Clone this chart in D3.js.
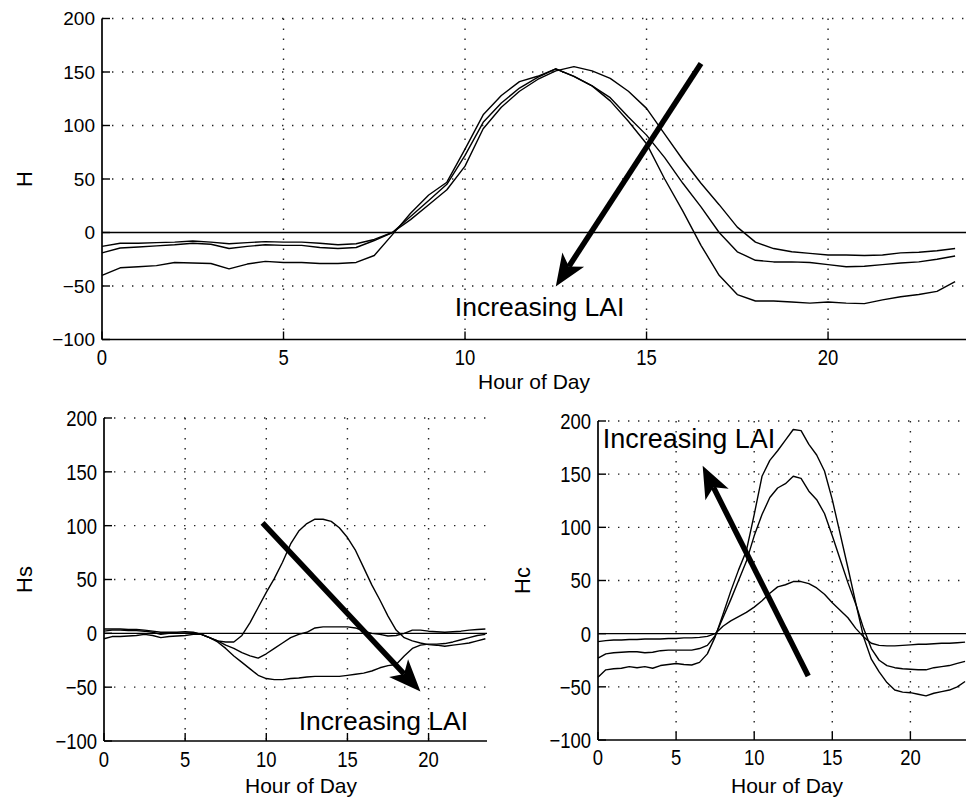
<!DOCTYPE html>
<html>
<head>
<meta charset="utf-8">
<script src="https://cdn.jsdelivr.net/npm/d3@7"></script>
<style>
  html, body { margin: 0; padding: 0; background: #fff; }
  svg { display: block; }
</style>
</head>
<body>
<div id="chart"></div>
<script>
// half-hourly samples, hour of day
const hours = [0, 0.5, 1, 1.5, 2, 2.5, 3, 3.5, 4, 4.5, 5, 5.5, 6, 6.5, 7, 7.5, 8, 8.5, 9, 9.5,
  10, 10.5, 11, 11.5, 12, 12.5, 13, 13.5, 14, 14.5, 15, 15.5, 16, 16.5, 17, 17.5, 18, 18.5, 19, 19.5,
  20, 20.5, 21, 21.5, 22, 22.5, 23, 23.5];

// total H, low / mid / high LAI
const hLow = [-13, -10, -10, -9.5, -9, -8, -9, -10.5, -9.5, -8.5, -9, -9, -10, -11.5, -10.5, -6.5, 0, 12, 26, 40,
  62, 97, 117, 132, 143, 151, 155, 151, 144, 132, 116, 92, 68, 46, 26, 5, -9, -15, -18, -19.5,
  -21, -21, -21.5, -21, -19, -18.5, -17, -15];
const hMid = [-19, -14.5, -13.5, -12.5, -11.5, -10, -11, -15, -13, -11.5, -12, -12, -14, -15, -14, -7.5, 0, 15, 30, 45,
  72, 103, 121, 135, 145, 153, 146, 137, 126, 108, 91, 70, 46, 24, 0, -18, -26, -27.5, -27.5, -28,
  -30, -32, -31.5, -30, -28.5, -27.5, -25, -22];
const hHigh = [-40, -33, -32, -31, -28, -28.5, -29, -34, -29.5, -27, -28, -28, -29, -29, -28, -21.5, -2, 18, 35, 47,
  78, 110, 128, 141, 146, 153, 146, 137, 123, 104, 83, 50, 20, -12, -40, -58, -64, -64, -65, -66,
  -65, -66, -66.5, -63, -60, -58, -55, -46];

// soil Hs
const hsLow = [-5, -3, -3, -2.5, -2, -1, -2, -4, -3, -2.5, -2, -1, -1, -4, -7, -8, -8, -2, 10, 24,
  38, 51, 66, 83, 95, 102, 106, 106, 104, 98, 89, 77, 61, 45, 31, 16, 3, -4, -7, -9,
  -10.5, -11, -12, -11, -10, -9, -7, -5];
const hsMid = [4, 4, 4, 3.5, 3.5, 3, 2, 1, 1, 1, 1.5, 1, -1, -4, -7, -11, -14, -18, -21, -23,
  -19, -14, -9, -4, -1, 1, 5, 6, 6, 6, 6, 5, 2, 0, -1, -2.5, -2, 0, 3, 3,
  2, 1.5, 1, 1.5, 2, 3, 3.5, 4];
const hsHigh = [2, 3, 3, 2.5, 2.5, 2, 1, -1, 0, 0, 0, 0.5, -1, -4, -8, -14, -21, -27, -33, -39,
  -42, -43, -43, -42, -41.5, -40.5, -40, -40, -40, -40, -39, -38, -37, -35, -32, -30, -29, -21, -14, -11,
  -10, -10, -9.5, -8, -6, -4, -2, -1];

// canopy Hc
const hcLow = [-7.5, -6.5, -6, -6, -5.5, -5.5, -5, -5, -5, -4.5, -4.5, -4, -4, -3.5, -2.5, 0, 7, 12, 16, 20,
  25, 31, 38, 44, 46, 49, 49, 47, 43, 37, 29, 22, 15, 5, -3, -9, -11, -11.5, -11.5, -11,
  -10.5, -10, -10, -9.5, -9, -9, -8.5, -8];
const hcMid = [-23, -19, -18, -17.5, -17, -17, -18, -17.5, -16, -15.5, -15.5, -15.5, -15.5, -14, -11, -2, 15, 32, 50, 68,
  92, 112, 128, 137, 141, 148, 146, 134, 126, 113, 92, 70, 48, 28, 5, -14, -25, -30, -32, -33,
  -33.5, -34, -34, -32, -31, -30, -28, -26];
const hcHigh = [-41, -34, -33, -32.5, -31, -32, -31, -32.5, -30, -29, -28, -29, -29.5, -27, -19, -3, 18, 40, 60, 78,
  112, 148, 163, 172, 182, 192, 191, 178, 168, 153, 126, 94, 62, 29, -3, -24, -36, -46, -53, -55,
  -55.5, -57, -58.5, -56, -54.5, -53, -50, -45];

const xTicks = [0, 5, 10, 15, 20];
const yTicks = [-100, -50, 0, 50, 100, 150, 200];

const W = 966, H = 801;
const font = "'Liberation Sans', Arial, Helvetica, sans-serif";

const svg = d3.select("#chart")
    .append("svg")
    .attr("width", W)
    .attr("height", H)
    .style("font-family", font);

function fmt(d) {
    return d < 0 ? "\u2212" + Math.abs(d) : String(d);
}

function drawPanel(p) {
    const x = d3.scaleLinear().domain([0, p.xMax]).range([p.left, p.right]);
    const y = d3.scaleLinear().domain([-100, 200]).range([p.bottom, p.top]);
    const g = svg.append("g").attr("class", p.name);

    // dotted grid
    g.selectAll(".gy").data(yTicks.filter(d => d !== -100 && d !== 0))
        .enter().append("line")
        .attr("x1", p.left).attr("x2", p.right)
        .attr("y1", d => y(d)).attr("y2", d => y(d))
        .attr("stroke", "#222").attr("stroke-width", 1.4)
        .attr("stroke-dasharray", "1.4,8.6");
    g.selectAll(".gx").data(xTicks.filter(d => d !== 0))
        .enter().append("line")
        .attr("x1", d => x(d)).attr("x2", d => x(d))
        .attr("y1", p.top).attr("y2", p.bottom)
        .attr("stroke", "#222").attr("stroke-width", 1.4)
        .attr("stroke-dasharray", "1.4,8.6");

    // zero reference
    g.append("line")
        .attr("x1", p.left).attr("x2", p.right)
        .attr("y1", y(0)).attr("y2", y(0))
        .attr("stroke", "#000").attr("stroke-width", 1.3);

    // axes
    g.append("line")
        .attr("x1", p.left).attr("x2", p.left)
        .attr("y1", p.top).attr("y2", p.bottom)
        .attr("stroke", "#000").attr("stroke-width", 1.7);
    g.append("line")
        .attr("x1", p.left).attr("x2", p.right)
        .attr("y1", p.bottom).attr("y2", p.bottom)
        .attr("stroke", "#000").attr("stroke-width", 1.7);

    // inward ticks
    g.selectAll(".ty").data(yTicks).enter().append("line")
        .attr("x1", p.left).attr("x2", p.left + 8)
        .attr("y1", d => y(d)).attr("y2", d => y(d))
        .attr("stroke", "#000").attr("stroke-width", 1.4);
    g.selectAll(".tx").data(xTicks).enter().append("line")
        .attr("x1", d => x(d)).attr("x2", d => x(d))
        .attr("y1", p.bottom).attr("y2", p.bottom - 8)
        .attr("stroke", "#000").attr("stroke-width", 1.4);

    // tick labels (the scan is a little taller than wide)
    g.selectAll(".ly").data(yTicks).enter().append("text")
        .attr("transform", d => `translate(${p.left - 7}, ${y(d) + p.ySize * 0.36}) scale(${p.yScaleX}, 1)`)
        .attr("text-anchor", "end")
        .attr("font-size", p.ySize)
        .text(fmt);
    g.selectAll(".lx").data(xTicks).enter().append("text")
        .attr("transform", d => `translate(${x(d)}, ${p.bottom + p.tickDy}) scale(0.84, 1)`)
        .attr("text-anchor", "middle")
        .attr("font-size", 22)
        .text(fmt);

    // axis titles
    g.append("text")
        .attr("x", p.xLabelX)
        .attr("y", p.xLabelY)
        .attr("text-anchor", "middle")
        .attr("font-size", 21)
        .text("Hour of Day");
    g.append("text")
        .attr("transform", `translate(${p.yLabelX}, ${(p.top + p.bottom) / 2}) rotate(-90)`)
        .attr("text-anchor", "middle")
        .attr("font-size", 22)
        .text(p.yLabel);

    // data lines
    const line = d3.line()
        .x((d, i) => x(hours[i]))
        .y(d => y(d));
    g.selectAll(".series").data(p.series).enter().append("path")
        .attr("d", d => line(d))
        .attr("fill", "none")
        .attr("stroke", "#000")
        .attr("stroke-width", 1.4)
        .attr("stroke-linejoin", "round");

    // "Increasing LAI" arrow
    const x0 = x(p.arrow[0]), y0 = y(p.arrow[1]);
    const x1 = x(p.arrow[2]), y1 = y(p.arrow[3]);
    const len = Math.hypot(x1 - x0, y1 - y0);
    const ux = (x1 - x0) / len, uy = (y1 - y0) / len;
    const headL = 32, headW = 13, notch = 24;
    g.append("line")
        .attr("x1", x0).attr("y1", y0)
        .attr("x2", x1 - ux * notch).attr("y2", y1 - uy * notch)
        .attr("stroke", "#000").attr("stroke-width", 5.5);
    const head = [
        [x1, y1],
        [x1 - ux * headL - uy * headW, y1 - uy * headL + ux * headW],
        [x1 - ux * notch, y1 - uy * notch],
        [x1 - ux * headL + uy * headW, y1 - uy * headL - ux * headW]
    ];
    g.append("path")
        .attr("d", "M" + head.map(d => d.join(",")).join("L") + "Z")
        .attr("fill", "#000");

    g.append("text")
        .attr("x", x(p.note[0]))
        .attr("y", y(p.note[1]))
        .attr("font-size", p.noteSize)
        .text("Increasing LAI");
}

drawPanel({
    name: "total", left: 102, right: 966, top: 18.5, bottom: 339.5, xMax: 23.8,
    series: [hLow, hMid, hHigh], yLabel: "H", yLabelX: 32, ySize: 19, yScaleX: 1,
    tickDy: 25, xLabelX: 534, xLabelY: 389,
    arrow: [16.5, 158, 12.5, -50.5], note: [9.72, -77.6], noteSize: 26.5
});
drawPanel({
    name: "soil", left: 104, right: 487, top: 418, bottom: 741, xMax: 23.6,
    series: [hsLow, hsMid, hsHigh], yLabel: "Hs", yLabelX: 32, ySize: 22, yScaleX: 0.84,
    tickDy: 26, xLabelX: 301, xLabelY: 793,
    arrow: [9.77, 102.5, 19.5, -54], note: [12.0, -90], noteSize: 26.5
});
drawPanel({
    name: "canopy", left: 598, right: 966, top: 421, bottom: 740, xMax: 23.56,
    series: [hcLow, hcMid, hcHigh], yLabel: "Hc", yLabelX: 530, ySize: 22, yScaleX: 0.84,
    tickDy: 25, xLabelX: 787, xLabelY: 793,
    arrow: [13.46, -39.8, 6.7, 157.8], note: [0.3, 174.4], noteSize: 27
});
</script>
</body>
</html>
